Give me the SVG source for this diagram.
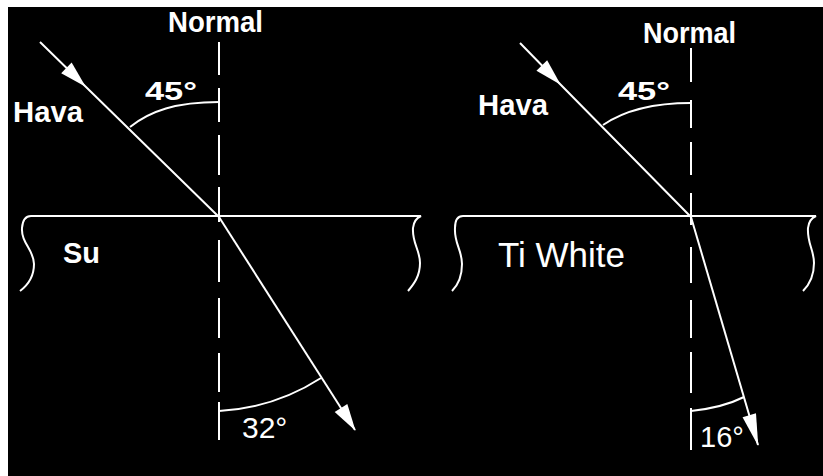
<svg xmlns="http://www.w3.org/2000/svg" width="823" height="476" viewBox="0 0 823 476">
<style>
.ln{stroke:#fff;stroke-width:2;fill:none;stroke-linecap:butt}
.tb{font-family:"Liberation Sans",Arial,sans-serif;font-weight:bold;fill:#fff}
.tr{font-family:"Liberation Sans",Arial,sans-serif;fill:#fff}
</style>
<defs>
<marker id="ah" markerUnits="userSpaceOnUse" orient="auto" refX="0" refY="0" markerWidth="40" markerHeight="40" overflow="visible">
<path d="M1,0 L-26,-7.5 L-26,7.5 z" fill="#fff"/>
</marker>
<marker id="ah2" markerUnits="userSpaceOnUse" orient="auto" refX="0" refY="0" markerWidth="40" markerHeight="40" overflow="visible">
<path d="M1,0 L-31,-7 L-31,7 z" fill="#fff"/>
</marker>
</defs>
<rect x="0" y="0" width="823" height="476" fill="#fff"/>
<rect x="8" y="7" width="815" height="469" fill="#000"/>

<g id="left-water">
<path class="ln" d="M31,216 Q23,216 22,228 C21,243 34,250 34,264 C34,277 28,285 20,291"/>
<path class="ln" d="M31,216 L421,216 Q414,219 413,228 C412,243 420,250 420,263 C420,276 414,284 408,291"/>
<text class="tb" x="63" y="263" font-size="29" textLength="37" lengthAdjust="spacingAndGlyphs">Su</text>
</g>
<g id="left-normal">
<path class="ln" d="M219,42 V75 M219,88 V122 M219,135 V175 M219,187 V222 M219,240 V282 M219,298 V338 M219,353 V392 M219,402 V440"/>
<text class="tb" x="168" y="32" font-size="29" textLength="95" lengthAdjust="spacingAndGlyphs">Normal</text>
</g>
<g id="left-air">
<text class="tb" x="13" y="122" font-size="30" textLength="70" lengthAdjust="spacingAndGlyphs">Hava</text>
<path class="ln" d="M130,127 C150,111 176,102 219,102"/>
<text class="tb" x="145" y="100" font-size="25" textLength="52" lengthAdjust="spacingAndGlyphs">45°</text>
</g>
<g id="left-angle32">
<path class="ln" d="M219,411 C255,409 290,398 321,378"/>
<text class="tr" x="242" y="438" font-size="30">32°</text>
</g>

<g id="right-tiwhite">
<path class="ln" d="M463,216 Q455,216 455,228 C454,243 462,250 462,264 C462,277 458,285 452,291"/>
<path class="ln" d="M463,216 L816,216 Q809,219 808,228 C807,243 814,250 814,263 C814,276 810,284 803,291"/>
<text class="tr" x="498" y="267" font-size="35" textLength="127" lengthAdjust="spacingAndGlyphs">Ti White</text>
</g>
<g id="right-normal">
<path class="ln" d="M691,48 V82 M691,100 V128 M691,142 V175 M691,193 V225 M691,247 V283 M691,300 V338 M691,352 V393 M691,408 V450"/>
<text class="tb" x="643" y="43" font-size="29" textLength="93" lengthAdjust="spacingAndGlyphs">Normal</text>
</g>
<g id="right-air">
<text class="tb" x="478" y="115" font-size="30" textLength="70" lengthAdjust="spacingAndGlyphs">Hava</text>
<path class="ln" d="M603,125 C622,112 650,103 691,103"/>
<text class="tb" x="618" y="100" font-size="25" textLength="52" lengthAdjust="spacingAndGlyphs">45°</text>
</g>
<g id="right-angle16">
<path class="ln" d="M691,411 C710,409 730,404 744,397"/>
<text class="tr" x="700" y="447" font-size="29">16°</text>
</g>

<g id="connectors">
<path class="ln" d="M40,42 L85,86 L219,217" marker-mid="url(#ah)"/>
<path class="ln" d="M219,217 L355,430" marker-end="url(#ah)"/>
<path class="ln" d="M520,43 L560,84 L691,217" marker-mid="url(#ah)"/>
<path class="ln" d="M691,217 L758,445" marker-end="url(#ah2)"/>
</g>
</svg>
